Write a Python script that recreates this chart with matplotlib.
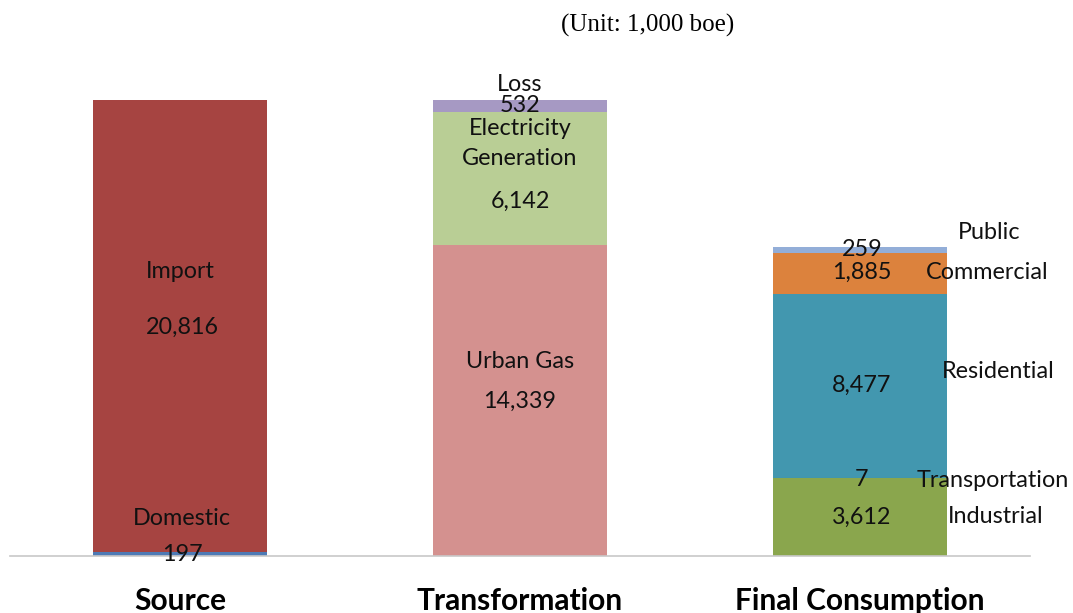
import numpy as np
import matplotlib.pyplot as plt

categories = ["Source", "Transformation", "Final Consumption"]

source_names = ["Domestic", "Import"]
source_values = [197, 20816]

transform_names = ["Urban Gas", "Electricity\nGeneration", "Loss"]
transform_values = [14339, 6142, 532]

final_names = ["Industrial", "Transportation", "Residential", "Commercial", "Public"]
final_values = [3612, 7, 8477, 1885, 259]

colors = [
    ["#4E7AB5", "#A64441"],
    ["#D4918F", "#B9CE95", "#A699C3"],
    ["#8AA64D", "#4196AE", "#4297AF", "#DC823D", "#93AED8"],
]

# label offsets in pixels: (value dx, value dy, name dx, name dy, name ha)
offsets = [
    [(2, -1, 2, 35, "center"), (2, -1, 0, 54, "center")],
    [(0, -1, 0, 39, "center"), (0, -23, 0, 35, "center"), (0, 0, 0, 21, "center")],
    [(2, -1, 88, 0, "left"), (2, -1.5, 57, -2.5, "left"), (2, 0, 82, 14.5, "left"),
     (2, 1, 66, 1, "left"), (2, 0, 98, 17, "left")],
]

names_all = [source_names, transform_names, final_names]
values_all = [source_values, transform_values, final_values]

plt.rcParams["font.family"] = ["Lato", "DejaVu Sans"]

fig = plt.figure(figsize=(10.73, 6.13), dpi=100)
ax = fig.add_axes([10 / 1073, 57 / 613, 1020 / 1073, 499 / 613])

width = 0.512
fs = 16.8
for i, (names, vals) in enumerate(zip(names_all, values_all)):
    bottom = 0
    for j, (name, v) in enumerate(zip(names, vals)):
        ax.bar(i, v, width, bottom=bottom, color=colors[i][j], linewidth=0)
        mid = bottom + v / 2
        vdx, vdy, ndx, ndy, ha = offsets[i][j]
        ax.annotate(f"{v:,}", (i, mid), xytext=(vdx, vdy), textcoords="offset pixels",
                    ha="center", va="center", fontsize=fs, color="#111111")
        ax.annotate(name, (i, mid), xytext=(ndx, ndy), textcoords="offset pixels",
                    ha=ha, va="center", fontsize=fs, color="#111111", linespacing=1.5)
        bottom += v

ax.set_xlim(-0.5, 2.5)
ax.set_ylim(0, 23000)
ax.set_xticks(range(len(categories)))
ax.set_xticklabels(categories, fontsize=21.5, fontweight="bold")
ax.tick_params(axis="x", length=0, pad=22)
ax.set_yticks([])
for s in ["top", "right", "left"]:
    ax.spines[s].set_visible(False)
ax.spines["bottom"].set_color("#C8C8C8")
ax.spines["bottom"].set_linewidth(1.2)

fig.text(648 / 1073, 1 - 25 / 613, "(Unit: 1,000 boe)", ha="center", va="center",
         fontsize=18, family=["Liberation Serif"])

fig.savefig("out.png", dpi=100)
